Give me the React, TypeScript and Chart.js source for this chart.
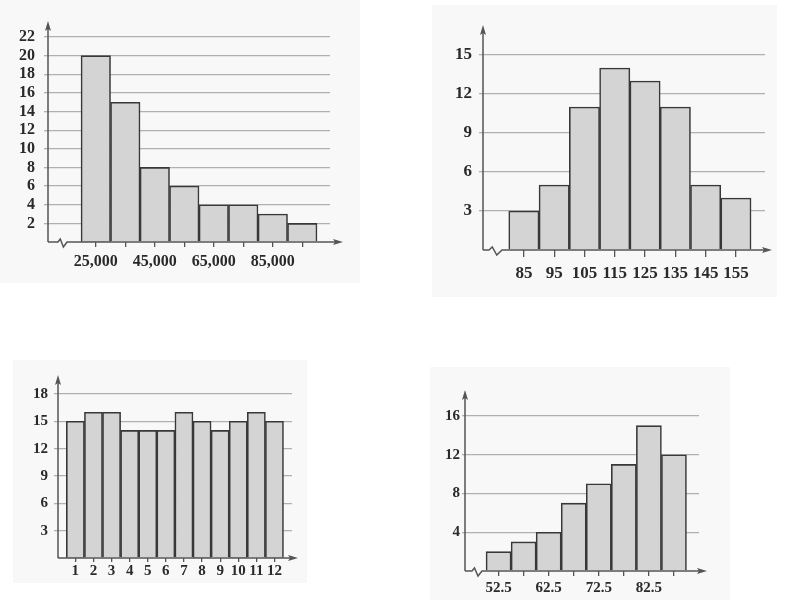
import React, { useEffect, useRef } from 'react';
import { Chart, registerables } from 'chart.js';

Chart.register(...registerables);

// ---- Panel A: incomes ----
const incomeMidpoints = [25000, 35000, 45000, 55000, 65000, 75000, 85000, 95000];
const incomeCounts = [20, 15, 8, 6, 4, 4, 3, 2];
const incomeTickLabels = ['25,000', '', '45,000', '', '65,000', '', '85,000', ''];

// ---- Panel B: scores ----
const scoreMidpoints = [85, 95, 105, 115, 125, 135, 145, 155];
const scoreCounts = [3, 5, 11, 14, 13, 11, 5, 4];
const scoreTickLabels = ['85', '95', '105', '115', '125', '135', '145', '155'];

// ---- Panel C: months ----
const monthNumbers = [1, 2, 3, 4, 5, 6, 7, 8, 9, 10, 11, 12];
const monthCounts = [15, 16, 16, 14, 14, 14, 16, 15, 14, 15, 16, 15];
const monthTickLabels = ['1', '2', '3', '4', '5', '6', '7', '8', '9', '10', '11', '12'];

// ---- Panel D: grades ----
const gradeMidpoints = [52.5, 57.5, 62.5, 67.5, 72.5, 77.5, 82.5, 87.5];
const gradeCounts = [2, 3, 4, 7, 9, 11, 15, 12];
const gradeTickLabels = ['52.5', '', '62.5', '', '72.5', '', '82.5', ''];

const FONT = "'Liberation Serif', 'Times New Roman', serif";
const TEXT = '#2a2a2a';
const AXIS = '#555555';
const GRID = '#b0b0b0';
const BAR_FILL = '#d4d4d4';
const BAR_EDGE = '#383838';
const PANEL_BG = '#f8f8f8';

type Spec = {
  mids: number[];
  counts: number[];
  tickLabels: string[];
  box: [number, number, number, number]; // x, y, w, h
  plot: [number, number, number, number]; // left, top, right, bottom
  xMin: number;
  xMax: number;
  yMax: number;
  yStep: number;
  fontSize: number;
  yTickLen: number;
  yPad: number;
  xTickLen: number;
  xPad: number;
  arrowUp: number;
  arrowRight: number;
  zig: number | null;
  zigW: number;
};

const specs: Spec[] = [
  {
    mids: incomeMidpoints, counts: incomeCounts, tickLabels: incomeTickLabels,
    box: [0, 0, 360, 283], plot: [48, 37, 330, 242],
    xMin: 8800, xMax: 104400, yMax: 22, yStep: 2, fontSize: 16,
    yTickLen: 4, yPad: 9, xTickLen: 5, xPad: 5,
    arrowUp: 16, arrowRight: 13, zig: 10, zigW: 9,
  },
  {
    mids: scoreMidpoints, counts: scoreCounts, tickLabels: scoreTickLabels,
    box: [432, 5, 345, 292], plot: [483, 55, 765, 250],
    xMin: 71.5, xMax: 164.6, yMax: 15, yStep: 3, fontSize: 17,
    yTickLen: 4, yPad: 7, xTickLen: 7, xPad: 6,
    arrowUp: 30, arrowRight: 7, zig: 6, zigW: 13,
  },
  {
    mids: monthNumbers, counts: monthCounts, tickLabels: monthTickLabels,
    box: [13, 360, 294, 223], plot: [58, 394, 292, 558],
    xMin: 0.04, xMax: 12.97, yMax: 18, yStep: 3, fontSize: 15,
    yTickLen: 4, yPad: 6, xTickLen: 4, xPad: 0,
    arrowUp: 19, arrowRight: 6, zig: null, zigW: 0,
  },
  {
    mids: gradeMidpoints, counts: gradeCounts, tickLabels: gradeTickLabels,
    box: [430, 367, 300, 233], plot: [465, 416, 699, 571],
    xMin: 45.8, xMax: 92.5, yMax: 16, yStep: 4, fontSize: 15,
    yTickLen: 3, yPad: 2, xTickLen: 5, xPad: 3,
    arrowUp: 26, arrowRight: 8, zig: 7, zigW: 10,
  },
];

function makeAxisPlugin(spec: Spec) {
  return {
    id: 'handAxes',
    afterDatasetsDraw(chart: any) {
      const { ctx } = chart;
      const { left, right, top, bottom } = chart.chartArea;
      ctx.save();
      ctx.strokeStyle = AXIS;
      ctx.fillStyle = AXIS;
      ctx.lineWidth = 1.5;
      ctx.lineJoin = 'miter';
      // y axis
      const yTip = top - spec.arrowUp;
      ctx.beginPath();
      ctx.moveTo(left, bottom);
      ctx.lineTo(left, yTip + 6);
      ctx.stroke();
      ctx.beginPath();
      ctx.moveTo(left, yTip);
      ctx.lineTo(left - 3, yTip + 10);
      ctx.lineTo(left, yTip + 8);
      ctx.lineTo(left + 3, yTip + 10);
      ctx.closePath();
      ctx.fill();
      // x axis
      const xTip = right + spec.arrowRight;
      ctx.beginPath();
      ctx.moveTo(left, bottom);
      if (spec.zig !== null) {
        const z = left + spec.zig;
        const w = spec.zigW;
        ctx.lineTo(z, bottom);
        ctx.lineTo(z + w * 0.25, bottom - 3);
        ctx.lineTo(z + w * 0.6, bottom + 5);
        ctx.lineTo(z + w, bottom);
      }
      ctx.lineTo(xTip - 6, bottom);
      ctx.stroke();
      ctx.beginPath();
      ctx.moveTo(xTip, bottom);
      ctx.lineTo(xTip - 10, bottom - 3);
      ctx.lineTo(xTip - 8, bottom);
      ctx.lineTo(xTip - 10, bottom + 3);
      ctx.closePath();
      ctx.fill();
      ctx.restore();
    },
  };
}

function Panel({ spec }: { spec: Spec }) {
  const ref = useRef<HTMLCanvasElement | null>(null);
  useEffect(() => {
    const canvas = ref.current;
    if (!canvas) return;
    const [bx, by, bw, bh] = spec.box;
    const [pl, pt, pr, pb] = spec.plot;
    const font = { family: FONT, size: spec.fontSize, weight: 'bold' as const };
    const chart = new Chart(canvas, {
      type: 'bar',
      data: {
        datasets: [
          {
            data: spec.mids.map((m, i) => ({ x: m, y: spec.counts[i] })),
            backgroundColor: BAR_FILL,
            borderColor: BAR_EDGE,
            borderWidth: 1.6,
            borderSkipped: 'bottom',
            barPercentage: 1,
            categoryPercentage: 1,
          } as any,
        ],
      },
      options: {
        animation: false,
        responsive: false,
        maintainAspectRatio: false,
        events: [],
        layout: { padding: { left: 0, top: pt - by, right: bx + bw - pr, bottom: 0 } },
        plugins: { legend: { display: false }, tooltip: { enabled: false }, title: { display: false } },
        scales: {
          x: {
            type: 'linear',
            min: spec.xMin,
            max: spec.xMax,
            bounds: 'data',
            offset: false,
            afterBuildTicks: (s: any) => {
              s.ticks = spec.mids.map((v) => ({ value: v }));
            },
            afterFit: (s: any) => {
              s.height = by + bh - pb;
            },
            ticks: {
              autoSkip: false,
              maxRotation: 0,
              minRotation: 0,
              padding: spec.xPad,
              color: TEXT,
              font,
              callback: (_v: any, i: number) => spec.tickLabels[i],
            },
            grid: {
              display: true,
              offset: false,
              drawOnChartArea: false,
              drawTicks: true,
              tickLength: spec.xTickLen,
              color: AXIS,
              lineWidth: 1.3,
            },
            border: { display: false },
          },
          y: {
            type: 'linear',
            min: 0,
            max: spec.yMax,
            afterFit: (s: any) => {
              s.width = pl - bx;
            },
            ticks: {
              stepSize: spec.yStep,
              autoSkip: false,
              padding: spec.yPad,
              color: TEXT,
              font,
              callback: (v: any) => (v === 0 ? '' : String(v)),
            },
            grid: {
              color: (c: any) => (c.tick && c.tick.value === 0 ? 'rgba(0,0,0,0)' : GRID),
              lineWidth: 1.3,
              drawTicks: true,
              tickLength: spec.yTickLen,
            },
            border: { display: false },
          },
        },
      } as any,
      plugins: [makeAxisPlugin(spec)],
    });
    return () => chart.destroy();
  }, [spec]);
  const [bx, by, bw, bh] = spec.box;
  return (
    <canvas
      ref={ref}
      width={bw}
      height={bh}
      style={{ position: 'absolute', left: bx, top: by, width: bw, height: bh, background: PANEL_BG }}
    />
  );
}

export default function App() {
  return (
    <div style={{ position: 'absolute', left: 0, top: 0, width: 788, height: 609, background: '#ffffff' }}>
      {specs.map((s, i) => (
        <Panel key={i} spec={s} />
      ))}
    </div>
  );
}
